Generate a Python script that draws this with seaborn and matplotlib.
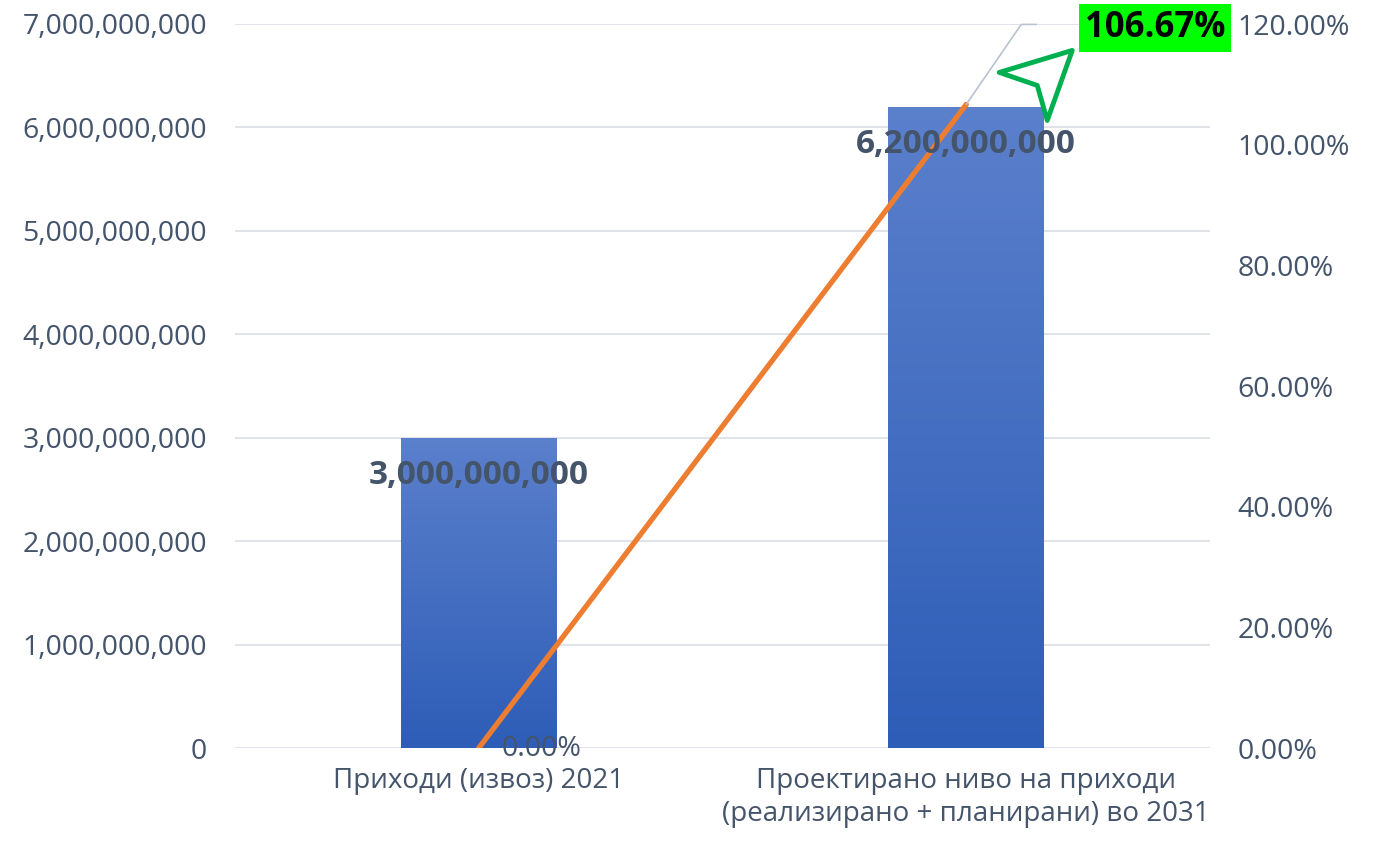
import numpy as np
import pandas as pd
import matplotlib
matplotlib.use("Agg")
import matplotlib.pyplot as plt
import matplotlib.transforms as mtransforms
from matplotlib.patches import Polygon
from matplotlib.ticker import FuncFormatter, MultipleLocator
import seaborn as sns

# chart data
categories = ["Приходи (извоз) 2021",
              "Проектирано ниво на приходи\n(реализирано + планирани) во 2031"]
revenue = [3000000000, 6200000000]
growth_pct = [0.0, 106.67]

TEXT = "#44546a"
GRID = "#dde1e7"
ORANGE = "#ed7d31"

sns.set_theme(style="white")
plt.rcParams["font.family"] = ["Open Sans", "DejaVu Sans"]

df = pd.DataFrame({"cat": categories, "revenue": revenue, "growth": growth_pct})
df["pos"] = np.arange(len(df))

fig = plt.figure(figsize=(13.8, 8.46), dpi=100)
ax = fig.add_axes([235 / 1380, 98 / 846, 975 / 1380, 724 / 846])

sns.barplot(data=df, x="cat", y="revenue", width=0.32, color="#4472c4",
            ax=ax, zorder=2)

# gradient fill for the bars
grad = np.linspace(0, 1, 256).reshape(-1, 1)
cmap = matplotlib.colors.LinearSegmentedColormap.from_list("bar", ["#2e5db7", "#5b80cc"])
for p in ax.patches:
    x0, y0 = p.get_x(), p.get_y()
    w, h = p.get_width(), p.get_height()
    im = ax.imshow(grad, cmap=cmap, origin="lower", aspect="auto",
                   extent=[x0, x0 + w, y0, y0 + h], zorder=2)
    im.set_clip_path(p)
    p.set_facecolor("none")
    p.set_edgecolor("none")

ax.set_xlim(-0.5, 1.5)
ax.set_ylim(0, 7000000000)
ax.yaxis.set_major_locator(MultipleLocator(1000000000))
ax.yaxis.set_major_formatter(FuncFormatter(lambda v, _: f"{v:,.0f}"))
ax.grid(axis="y", color=GRID, linewidth=1.3, zorder=0)
ax.set_axisbelow(True)
ax.set_xlabel("")
ax.set_ylabel("")
ax.tick_params(axis="y", length=0, pad=20, labelsize=20.5, labelcolor=TEXT)
ax.tick_params(axis="x", length=0, pad=14, labelsize=20, labelcolor=TEXT)
for s in ax.spines.values():
    s.set_visible(False)

# secondary axis with the growth line
ax2 = ax.twinx()
sns.lineplot(data=df, x="pos", y="growth", color=ORANGE, linewidth=3.8,
             ax=ax2, zorder=4, solid_capstyle="round")
ax2.set_ylim(0, 120)
ax2.yaxis.set_major_locator(MultipleLocator(20))
ax2.yaxis.set_major_formatter(FuncFormatter(lambda v, _: f"{v:.2f}%"))
ax2.tick_params(axis="y", length=0, pad=20, labelsize=20.5, labelcolor=TEXT)
ax2.set_ylabel("")
ax2.set_xlabel("")
ax2.grid(False)
for s in ax2.spines.values():
    s.set_visible(False)

# bar value labels (drawn on top of the line)
for i, v in enumerate(revenue):
    ax2.annotate(f"{v:,.0f}", xy=(i, v), xycoords=ax.transData,
                 xytext=(0, -27), textcoords="offset points",
                 ha="center", va="center", fontsize=24, fontweight="bold",
                 color=TEXT, zorder=6)

# first point label
ax2.annotate(f"{growth_pct[0]:.2f}%", xy=(0, growth_pct[0]), xytext=(45, -1),
             textcoords="offset points", ha="center", va="center",
             fontsize=20.5, color=TEXT, zorder=6, annotation_clip=False)

# last point label with leader line and green box
last_x, last_y = 1, growth_pct[1]
base = fig.dpi_scale_trans + mtransforms.ScaledTranslation(last_x, last_y, ax2.transData)
leader = np.array([[0, 0], [55, 80], [70, 80]]) / 100.0
ax2.plot(leader[:, 0], leader[:, 1], color="#b8c2d0", linewidth=1.2,
         transform=base, zorder=5, clip_on=False)
ax2.annotate(f"{growth_pct[1]:.2f}%", xy=(last_x, last_y), xytext=(136, 55),
             textcoords="offset points", ha="center", va="center",
             fontsize=25, fontweight="bold", color="black", zorder=7,
             annotation_clip=False,
             bbox=dict(boxstyle="square,pad=0.17", fc="#00ff00", ec="none"))

# green arrow pointer
arrow = np.array([[33, 32], [106, 54], [81, -16], [71, 19]]) / 100.0
ax2.add_patch(Polygon(arrow, closed=True, fill=False, edgecolor="#00b050",
                      linewidth=3.5, joinstyle="round", transform=base,
                      zorder=7, clip_on=False))

fig.savefig("out.png", dpi=100)
